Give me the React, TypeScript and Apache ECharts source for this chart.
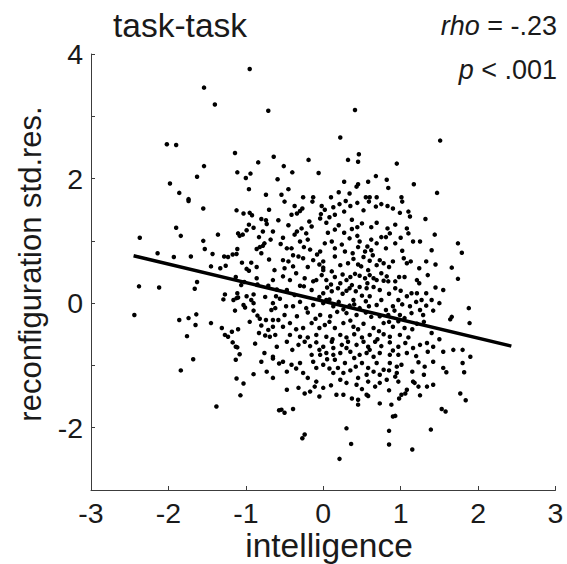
import React, { useEffect, useRef } from "react";
import * as echarts from "echarts";

const yTickLabels = [-2, 0, 2, 4];
const fitX = [-2.45, 2.43];
const fitY = [0.76, -0.69];
const titleText = "task-task";
const xName = "intelligence";
const yName = "reconfiguration std.res.";

const scatterPoints: [number, number][] = [
  // upper left
  [-0.95, 3.76], [-1.54, 3.46], [-1.40, 3.19], [-0.71, 3.09], [-2.02, 2.55], [-1.90, 2.54], [-1.14, 2.41], [-0.64, 2.35],
  [-0.84, 2.26], [-1.54, 2.20], [-1.11, 2.10], [-0.94, 2.08], [-1.00, 2.01], [-1.63, 2.03], [-0.59, 1.99], [-1.98, 1.92],
  [-0.96, 1.83], [-1.86, 1.77], [-0.74, 1.74], [-1.74, 1.67],
  // upper right
  [0.41, 3.10], [0.22, 2.66], [1.51, 2.61], [0.46, 2.39], [-0.19, 2.30], [0.32, 2.30], [0.45, 2.27], [0.95, 2.24],
  [-0.51, 2.20], [-0.40, 2.10], [-0.06, 2.09], [0.68, 2.04], [0.82, 1.98], [0.27, 1.95], [0.58, 1.95], [0.45, 1.91],
  [0.43, 1.87], [1.17, 1.91], [-0.45, 1.83], [0.84, 1.85], [0.20, 1.78], [0.34, 1.76], [1.47, 1.77], [-0.26, 1.70],
  [-0.13, 1.70], [0.10, 1.70], [0.55, 1.70], [0.60, 1.70], [0.69, 1.70], [1.01, 1.70], [-0.54, 1.74],
  // middle left
  [-1.74, 1.64], [-1.55, 1.52], [-1.12, 1.49], [-1.03, 1.44], [-0.95, 1.45], [-0.92, 1.41], [-0.70, 1.50], [-0.58, 1.33],
  [-0.74, 1.33], [-0.73, 1.27], [-0.96, 1.26], [-0.90, 1.21], [-0.99, 1.17], [-0.65, 1.15], [-0.78, 1.15], [-1.90, 1.21],
  [-1.84, 1.08], [-1.36, 1.10], [-1.10, 1.12], [-1.08, 1.08], [-1.04, 1.10], [-2.37, 1.05], [-0.83, 1.06], [-1.55, 1.00],
  [-0.68, 1.02], [-0.76, 0.96], [-0.78, 0.92], [-0.82, 0.90], [-0.86, 0.87], [-1.53, 0.87], [-1.11, 0.87], [-0.80, 0.80],
  [-2.14, 0.80], [-1.43, 0.79], [-1.12, 0.79], [-1.17, 0.78], [-1.23, 0.74], [-1.28, 0.75], [-1.71, 0.75], [-1.93, 0.74],
  [-0.93, 0.65], [-1.26, 0.60], [-1.33, 0.56], [-1.45, 0.59], [-0.86, 0.58], [-0.99, 0.55], [-0.96, 0.52], [-0.63, 0.53],
  [-0.86, 0.40], [-1.13, 0.42], [-1.02, 0.34], [-1.06, 0.29], [-0.65, 0.37], [-1.63, 0.34], [-1.66, 0.23], [-2.38, 0.27],
  [-2.12, 0.25], [-0.71, 0.28], [-0.60, 0.22], [-1.11, 0.16], [-1.10, 0.09], [-0.99, 0.11], [-0.90, 0.14], [-0.93, 0.05],
  [-1.27, 0.14], [-1.29, 0.06], [-1.16, 0.05], [-1.12, 0.08], [-0.61, 0.11], [-0.56, 0.07], [-0.90, 0.00], [-1.03, -0.03],
  [-1.01, -0.07], [-0.65, 0.00], [-0.62, -0.08], [-0.67, -0.11], [-1.14, -0.12], [-0.90, -0.12], [-2.44, -0.19], [-1.64, -0.18],
  [-1.74, -0.24], [-1.86, -0.27], [-0.85, -0.20], [-0.82, -0.25], [-0.74, -0.27], [-0.65, -0.27], [-0.58, -0.27], [-1.45, -0.32],
  [-1.65, -0.35], [-0.80, -0.36], [-0.65, -0.38], [-0.71, -0.43], [-1.31, -0.40], [-1.27, -0.51], [-1.23, -0.54], [-1.18, -0.46],
  [-1.10, -0.42], [-1.76, -0.53], [-0.83, -0.48], [-0.75, -0.52], [-0.69, -0.54], [-0.62, -0.51],
  [-0.85, 0.30], [-0.75, 0.10], [-0.95, -0.30], [-0.60, -0.70], [-0.88, -0.65], [-0.70, 0.70], [-0.55, 0.95], [-1.05, 0.65],
  [-0.80, 1.35],
  // lower left
  [-1.17, -0.63], [-1.13, -0.70], [-1.11, -0.71], [-1.08, -0.82], [-1.13, -0.91], [-1.68, -0.90], [-1.84, -1.08], [-0.76, -0.80],
  [-0.65, -0.86], [-0.65, -0.89], [-0.80, -0.94], [-0.57, -0.97], [-0.90, -1.14], [-0.73, -1.10], [-0.65, -1.20], [-1.12, -1.21],
  [-1.03, -1.29], [-1.07, -1.48], [-1.38, -1.66], [-0.57, -1.72],
  // middle right
  [-0.50, 1.63], [-0.37, 1.56], [-0.27, 1.52], [-0.14, 1.63], [-0.02, 1.56], [0.13, 1.54], [0.21, 1.59], [0.29, 1.64],
  [0.35, 1.56], [0.44, 1.61], [0.59, 1.63], [0.68, 1.55], [0.75, 1.59], [0.83, 1.56], [1.02, 1.63],
  [-0.30, 1.48], [0.02, 1.50], [0.52, 1.49], [0.90, 1.52],
  [-0.41, 1.42], [-0.34, 1.44], [-0.03, 1.43], [0.08, 1.38], [0.15, 1.42], [0.27, 1.47], [-0.04, 1.36], [0.37, 1.34],
  [0.69, 1.29], [0.99, 1.45], [1.10, 1.47], [1.12, 1.39], [1.32, 1.35], [-0.18, 1.31], [0.04, 1.29],
  [-0.45, 1.25], [0.20, 1.25], [0.62, 1.22], [0.15, 1.18], [-0.28, 1.20],
  [-0.34, 1.15], [-0.37, 1.10], [-0.22, 1.12], [-0.15, 1.23], [0.06, 1.13], [0.27, 1.13], [0.37, 1.19], [0.44, 1.22],
  [0.50, 1.28], [0.83, 1.20], [0.86, 1.12], [0.93, 1.26], [1.08, 1.20], [1.10, 1.12], [1.44, 1.10], [0.75, 1.06], [0.81, 1.06],
  [-0.20, 1.02], [0.02, 0.96], [0.44, 1.08], [0.62, 1.02], [1.00, 1.05], [-0.52, 1.05],
  [-0.47, 0.88], [-0.41, 0.88], [-0.30, 0.99], [-0.39, 0.77], [-0.17, 0.86], [-0.04, 0.83], [0.11, 0.99], [0.24, 0.94],
  [0.34, 1.04], [0.38, 0.80], [0.47, 0.99], [0.57, 0.91], [0.54, 0.83], [0.69, 0.96], [0.81, 0.88], [0.93, 0.96],
  [1.16, 0.99], [1.25, 0.99], [1.74, 0.96], [1.79, 0.81], [0.28, 0.83],
  [-0.25, 0.90], [0.15, 0.88], [0.45, 0.90], [0.62, 0.85], [1.02, 0.84], [1.40, 0.85], [-0.08, 0.78],
  [-0.52, 0.69], [-0.45, 0.67], [-0.32, 0.75], [-0.26, 0.72], [-0.13, 0.69], [0.00, 0.67], [0.15, 0.75], [0.22, 0.61],
  [0.39, 0.71], [0.52, 0.74], [0.64, 0.77], [0.73, 0.69], [0.69, 0.61], [0.78, 0.64], [0.90, 0.67], [1.04, 0.72],
  [1.08, 0.64], [1.13, 0.67], [1.33, 0.67], [-0.50, 0.56], [-0.39, 0.59], [0.00, 0.53], [0.11, 0.51], [0.00, 0.57],
  [0.49, 0.59], [0.58, 0.53], [1.24, 0.56], [1.66, 0.57],
  [-0.05, 0.62], [0.32, 0.64], [0.45, 0.62], [0.60, 0.68], [0.85, 0.58], [1.45, 0.62], [-0.20, 0.58],
  [-0.52, 0.43], [-0.43, 0.37], [-0.24, 0.40], [-0.13, 0.35], [-0.09, 0.37], [0.04, 0.37], [0.15, 0.42], [0.22, 0.32],
  [0.30, 0.37], [0.37, 0.29], [0.41, 0.47], [0.47, 0.44], [0.54, 0.40], [0.60, 0.45], [0.57, 0.32], [0.69, 0.37],
  [0.75, 0.48], [0.82, 0.43], [0.84, 0.35], [0.93, 0.35], [0.98, 0.42], [1.21, 0.37], [1.24, 0.32], [1.74, 0.39], [-0.30, 0.28],
  [-0.35, 0.48], [-0.02, 0.45], [0.25, 0.46], [0.35, 0.42], [0.65, 0.40], [0.78, 0.36], [1.05, 0.42], [1.35, 0.45], [0.10, 0.30],
  [-0.47, 0.21], [-0.37, 0.13], [-0.15, 0.21], [0.00, 0.16], [0.11, 0.19], [0.19, 0.24], [0.30, 0.20], [0.34, 0.24],
  [0.42, 0.19], [0.47, 0.26], [0.56, 0.24], [0.60, 0.11], [0.73, 0.21], [0.93, 0.24], [1.08, 0.11], [1.14, 0.16],
  [1.21, 0.16], [1.33, 0.16], [1.55, 0.21], [0.97, 0.05], [1.27, 0.05], [1.40, 0.05], [0.04, 0.05], [0.39, 0.05],
  [-0.25, 0.27], [0.05, 0.25], [0.25, 0.15], [0.50, 0.12], [0.65, 0.26], [0.85, 0.15], [1.00, 0.20], [1.45, 0.25], [-0.05, 0.10],
  [-0.39, -0.05], [-0.22, -0.08], [-0.13, -0.03], [0.00, 0.00], [0.13, -0.05], [0.26, -0.10], [0.34, -0.04], [0.47, -0.08],
  [0.59, -0.05], [0.69, -0.03], [0.81, -0.11], [0.90, -0.05], [1.12, -0.05], [1.25, -0.11], [1.33, -0.04], [1.50, 0.00],
  [-0.30, 0.02], [0.08, 0.06], [0.20, 0.02], [0.55, 0.03], [0.75, 0.05], [1.02, -0.02], [1.20, 0.02], [-0.48, -0.05], [0.40, -0.02],
  [1.88, -0.08], [-0.50, -0.19], [-0.34, -0.21], [-0.04, -0.19], [0.09, -0.21], [0.30, -0.16], [0.43, -0.19], [0.73, -0.21],
  [0.84, -0.19], [0.99, -0.19], [1.14, -0.16], [1.29, -0.19], [1.66, -0.22], [1.64, -0.26],
  [-0.20, -0.15], [0.18, -0.14], [0.55, -0.15], [0.62, -0.22], [0.92, -0.12], [1.05, -0.24], [1.42, -0.12], [-0.10, -0.25],
  [-0.52, -0.38], [-0.43, -0.32], [-0.26, -0.40], [-0.15, -0.32], [0.02, -0.35], [0.15, -0.40], [0.26, -0.32], [0.39, -0.38],
  [0.52, -0.33], [0.65, -0.40], [0.78, -0.32], [0.90, -0.38], [0.97, -0.29], [1.05, -0.40], [1.21, -0.33], [1.40, -0.48],
  [-0.35, -0.42], [-0.05, -0.40], [0.08, -0.30], [0.35, -0.28], [0.45, -0.42], [0.72, -0.45], [0.85, -0.30], [1.15, -0.42], [1.30, -0.30],
  [1.89, -0.32], [-0.43, -0.51], [-0.30, -0.54], [-0.09, -0.51], [0.04, -0.54], [0.22, -0.51], [0.50, -0.55], [0.60, -0.51],
  [0.86, -0.54], [0.99, -0.51],
  [-0.20, -0.55], [0.12, -0.58], [0.30, -0.55], [0.40, -0.50], [0.70, -0.58], [0.78, -0.50], [1.10, -0.55], [1.50, -0.58],
  // lower right
  [-0.47, -0.62], [-0.32, -0.67], [-0.24, -0.62], [-0.17, -0.69], [-0.09, -0.63], [0.00, -0.70], [0.11, -0.62], [0.13, -0.72],
  [0.24, -0.67], [0.32, -0.62], [0.30, -0.72], [0.43, -0.67], [0.52, -0.62], [0.58, -0.70], [0.67, -0.62], [0.75, -0.69],
  [0.86, -0.63], [0.97, -0.70], [1.06, -0.64], [1.16, -0.72], [1.25, -0.67], [1.34, -0.64], [1.42, -0.70], [1.55, -0.78],
  [1.68, -0.75], [1.80, -0.75], [1.90, -0.86], [-0.15, -0.83], [-0.04, -0.83], [0.04, -0.80], [0.13, -0.83], [0.22, -0.80],
  [0.47, -0.83], [0.56, -0.80], [0.65, -0.86], [0.73, -0.80], [0.86, -0.83], [0.97, -0.83], [1.08, -0.80],
  [-0.40, -0.75], [-0.05, -0.75], [0.35, -0.78], [0.40, -0.88], [0.60, -0.75], [0.90, -0.76], [1.20, -0.85], [1.35, -0.78], [0.05, -0.90],
  [-0.52, -0.94], [-0.41, -0.99], [-0.47, -1.10], [-0.30, -0.96], [-0.13, -0.94], [-0.09, -1.04], [0.00, -0.99], [0.15, -0.91],
  [0.19, -1.04], [0.28, -0.96], [0.42, -1.02], [0.50, -0.96], [0.58, -1.04], [0.69, -0.96], [0.78, -1.07], [0.86, -0.96],
  [0.95, -1.02], [1.01, -0.99], [1.23, -0.95], [1.31, -1.02], [1.42, -0.94], [1.55, -1.04], [1.59, -1.11], [1.80, -0.96],
  [1.82, -1.11], [-0.26, -1.12], [0.13, -1.12], [0.26, -1.12], [0.56, -1.15], [0.73, -1.15], [0.95, -1.12],
  [-0.35, -1.05], [0.08, -1.05], [0.35, -1.08], [0.65, -1.10], [0.85, -1.08], [1.15, -1.10], [1.30, -1.15], [-0.20, -1.20], [0.45, -1.20],
  [-0.47, -1.39], [-0.32, -1.36], [-0.24, -1.45], [-0.11, -1.34], [-0.17, -1.42], [-0.09, -1.26], [0.22, -1.23], [0.30, -1.28],
  [0.43, -1.31], [0.17, -1.47], [0.26, -1.47], [0.00, -1.36], [0.58, -1.26], [0.67, -1.34], [0.73, -1.28], [0.82, -1.23],
  [0.93, -1.18], [0.97, -1.26], [1.08, -1.39], [1.01, -1.47], [1.16, -1.26], [1.18, -1.28], [1.23, -1.34], [1.34, -1.34],
  [1.42, -1.31], [0.58, -1.49], [0.56, -1.47],
  [0.10, -1.32], [0.50, -1.38], [0.85, -1.40], [-0.05, -1.50], [1.25, -1.48],
  [0.37, -1.53], [0.45, -1.55], [0.45, -1.63], [0.73, -1.61], [0.88, -1.63], [0.98, -1.53], [1.06, -1.45], [1.77, -1.45],
  [1.84, -1.56], [-0.54, -1.71], [-0.50, -1.76], [-0.39, -1.70], [1.53, -1.70], [1.58, -1.74], [0.90, -1.82], [0.93, -1.81],
  [-0.24, -2.11], [-0.27, -2.17], [0.30, -2.01], [0.85, -2.05], [1.39, -2.03], [0.36, -2.26], [0.85, -2.27], [1.15, -2.35],
  [0.21, -2.50],
];

const FONT = "'Liberation Sans', Arial, Helvetica, sans-serif";
const TXT = "#1a1a1a";
const AX = "#3c3c3c";

export default function App() {
  const ref = useRef<HTMLDivElement>(null);
  useEffect(() => {
    const chart = echarts.init(ref.current!, null, { renderer: "svg" });
    chart.setOption({
      animation: false,
      backgroundColor: "#ffffff",
      grid: { left: 91, right: 11.5, top: 54, bottom: 74, containLabel: false },
      xAxis: {
        type: "value",
        min: -3,
        max: 3,
        interval: 1,
        axisLine: { onZero: false, lineStyle: { color: AX, width: 1 } },
        axisTick: { inside: true, length: 4, lineStyle: { color: AX } },
        axisLabel: { fontSize: 28.5, color: TXT, fontFamily: FONT, margin: 8 },
        splitLine: { show: false },
      },
      yAxis: {
        type: "value",
        min: -3,
        max: 4,
        interval: 1,
        axisLine: { onZero: false, lineStyle: { color: AX, width: 1 } },
        axisTick: { inside: true, length: 4, lineStyle: { color: AX } },
        axisLabel: {
          fontSize: 28.5,
          color: TXT,
          fontFamily: FONT,
          margin: 8,
          formatter: (v: number) => (yTickLabels.includes(v) ? String(v) : ""),
        },
        splitLine: { show: false },
      },
      series: [
        {
          type: "scatter",
          data: scatterPoints,
          symbolSize: 4.5,
          itemStyle: { color: "#000000", opacity: 1 },
          silent: true,
        },
        {
          type: "line",
          data: fitX.map((x, i) => [x, fitY[i]]),
          showSymbol: false,
          symbol: "none",
          lineStyle: { color: "#000000", width: 3.5 },
          z: 5,
          silent: true,
        },
      ],
      graphic: [
        {
          type: "text",
          x: 113,
          y: 25,
          style: { text: titleText, font: `33.5px ${FONT}`, fill: TXT, textAlign: "left", textVerticalAlign: "middle" },
        },
        {
          type: "text",
          x: 557,
          y: 26,
          style: {
            text: "{i|rho} = -.23",
            font: `27px ${FONT}`,
            fill: TXT,
            textAlign: "right",
            textVerticalAlign: "middle",
            rich: { i: { fontStyle: "italic", fontSize: 27, fontFamily: FONT, fill: TXT } },
          },
        },
        {
          type: "text",
          x: 557,
          y: 70,
          style: {
            text: "{i|p} < .001",
            font: `27px ${FONT}`,
            fill: TXT,
            textAlign: "right",
            textVerticalAlign: "middle",
            rich: { i: { fontStyle: "italic", fontSize: 27, fontFamily: FONT, fill: TXT } },
          },
        },
        {
          type: "text",
          x: 329,
          y: 545,
          style: { text: xName, font: `33.5px ${FONT}`, fill: TXT, textAlign: "center", textVerticalAlign: "middle" },
        },
        {
          type: "text",
          x: 30,
          y: 264,
          rotation: Math.PI / 2,
          style: { text: yName, font: `31px ${FONT}`, fill: TXT, textAlign: "center", textVerticalAlign: "middle" },
        },
      ],
    });
    return () => chart.dispose();
  }, []);
  return <div ref={ref} style={{ position: "fixed", left: 0, top: 0, width: 567, height: 564 }} />;
}
